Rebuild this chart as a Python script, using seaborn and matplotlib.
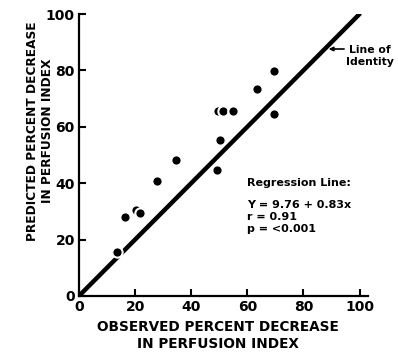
import matplotlib
matplotlib.use("Agg")
import matplotlib.pyplot as plt
import seaborn as sns
import pandas as pd

# valeurs
observed = [13.4, 16.4, 20.3, 21.7, 27.9, 34.4, 49.1, 50.1, 49.5, 51.4, 55.0, 63.5, 69.5, 69.6]
predicted = [15.7, 28.1, 30.5, 29.3, 40.8, 48.2, 44.6, 55.2, 65.5, 65.5, 65.5, 73.4, 79.7, 64.6]
identity = [0, 100]
ticks = [0, 20, 40, 60, 80, 100]

sns.set_style("ticks")
plt.rcParams['font.family'] = ['DejaVu Sans']
plt.rcParams['font.weight'] = 'bold'
for k in ['text.color', 'axes.labelcolor', 'xtick.color', 'ytick.color', 'axes.edgecolor']:
    plt.rcParams[k] = 'black'

df = pd.DataFrame({"obs": observed, "pred": predicted})

fig = plt.figure(figsize=(3.98, 3.6), dpi=100)
ax = fig.add_axes([0.1985, 0.178, 0.726, 0.783])

sns.lineplot(x=identity, y=identity, color="black", linewidth=3.2, ax=ax, zorder=2)
sns.scatterplot(data=df, x="obs", y="pred", color="black", s=55,
                edgecolor="white", linewidth=1.5, ax=ax, zorder=3)

ax.set_xlim(0, 103)
ax.set_ylim(0, 100)
ax.set_xticks(ticks)
ax.set_yticks(ticks)
ax.tick_params(direction="in", length=5, width=1.5, labelsize=10, pad=3)
for lab in ax.get_xticklabels() + ax.get_yticklabels():
    lab.set_fontweight("bold")
sns.despine(ax=ax)
for sp in ["left", "bottom"]:
    ax.spines[sp].set_linewidth(1.6)

ax.set_xlabel("OBSERVED PERCENT DECREASE\nIN PERFUSION INDEX", fontsize=9.8,
              fontweight="bold", linespacing=1.25)
ax.set_ylabel("PREDICTED PERCENT DECREASE\nIN PERFUSION INDEX", fontsize=8.7,
              fontweight="bold", linespacing=1.25)
ax.xaxis.set_label_coords(0.48, -0.085)
ax.yaxis.set_label_coords(-0.085, 0.585)

ax.text(103.8, 85.1, "Line of\nIdentity", fontsize=7.8, fontweight="bold",
        va="center", ha="center", multialignment="center", linespacing=1.25,
        clip_on=False)
ax.annotate("", xy=(89, 87.6), xytext=(94.5, 87.6), annotation_clip=False,
            arrowprops=dict(arrowstyle="-|>", color="black", lw=1.2,
                            shrinkA=0, shrinkB=0, mutation_scale=6))

ax.text(60, 40, "Regression Line:", fontsize=8, fontweight="bold", va="center")
ax.text(60, 28.0, "Y = 9.76 + 0.83x\nr = 0.91\np = <0.001", fontsize=8,
        fontweight="bold", va="center", linespacing=1.2)

plt.savefig("out.png", dpi=100)
plt.close()
